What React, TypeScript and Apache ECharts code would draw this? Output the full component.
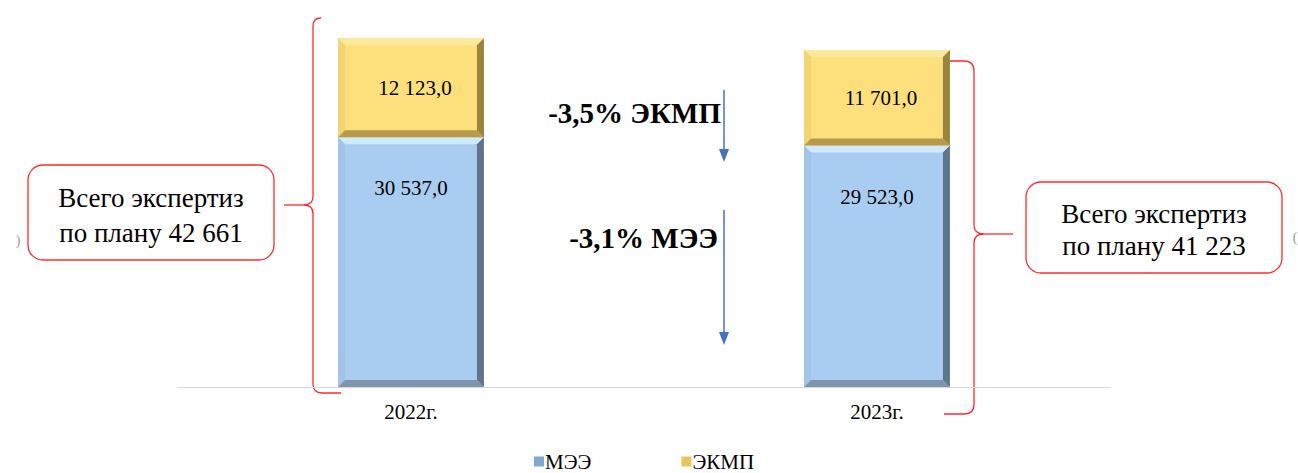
import React, { useEffect, useRef } from "react";
import * as echarts from "echarts";

const categories = ["2022г.", "2023г."];
const meeValues = [30537, 29523];
const ekmpValues = [12123, 11701];
const seriesNames = ["МЭЭ", "ЭКМП"];
const totalTexts = ["Всего экспертиз\nпо плану 42 661", "Всего экспертиз\nпо плану 41 223"];
const changeTexts = ["-3,5% ЭКМП", "-3,1% МЭЭ"];

const SERIF = "'Times New Roman', 'Liberation Serif', 'DejaVu Serif', serif";

function fmt(v: number): string {
  const s = Math.round(v).toString().replace(/\B(?=(\d{3})+(?!\d))/g, " ");
  return s + ",0";
}

type Pal = { face: string; top: string; left: string; right: string; bottom: string };
const bluePal: Pal = { face: "#a9cdf1", top: "#cfeafd", left: "#a2c5e8", right: "#5f758b", bottom: "#7d95ad" };
const yellowPal: Pal = { face: "#fde07b", top: "#fee99a", left: "#f3d474", right: "#9b843d", bottom: "#b59b4a" };

function makeRender(pal: Pal, labelDist: number, labelInside: boolean) {
  return (params: any, api: any) => {
    const cat = api.value(0);
    const v = api.value(1);
    const base = api.value(2);
    const p0 = api.coord([cat, base]);
    const p1 = api.coord([cat, base + v]);
    const bw = api.size([1, 0])[0] * 0.313;
    const x0 = p0[0] - bw / 2;
    const x1 = x0 + bw;
    const yT = p1[1];
    const yB = p0[1];
    const b = 7;
    const labelY = labelInside ? (yT + yB) / 2 : yT + labelDist;
    return {
      type: "group",
      children: [
        { type: "rect", shape: { x: x0, y: yT, width: bw, height: yB - yT }, style: { fill: pal.face } },
        { type: "polygon", shape: { points: [[x0, yT], [x1, yT], [x1 - b, yT + b], [x0 + b, yT + b]] }, style: { fill: pal.top } },
        { type: "polygon", shape: { points: [[x0, yT], [x0 + b, yT + b], [x0 + b, yB - b], [x0, yB]] }, style: { fill: pal.left } },
        { type: "polygon", shape: { points: [[x1, yT], [x1, yB], [x1 - b, yB - b], [x1 - b, yT + b]] }, style: { fill: pal.right } },
        { type: "polygon", shape: { points: [[x0, yB], [x0 + b, yB - b], [x1 - b, yB - b], [x1, yB]] }, style: { fill: pal.bottom } },
        {
          type: "text",
          style: {
            text: fmt(v),
            x: p0[0] + (labelInside ? 4 : 0),
            y: labelY,
            align: "center",
            verticalAlign: "middle",
            fill: "#000",
            fontFamily: SERIF,
            fontSize: 21,
          },
        },
      ],
    };
  };
}

export default function App() {
  const ref = useRef<HTMLDivElement>(null);
  useEffect(() => {
    if (!ref.current) return;
    echarts.graphic.registerShape(
      "braceLeft",
      echarts.graphic.extendPath(
        "M 321 18 Q 313 18 313 26 L 313 196 Q 313 205 304 205 Q 313 205 313 214 L 313 384 Q 313 393 322 393 L 341 393",
        {}
      )
    );
    echarts.graphic.registerShape(
      "braceRight",
      echarts.graphic.extendPath(
        "M 944 61 L 964 61 Q 974 61 974 71 L 974 225 Q 974 234 984 234 Q 974 234 974 243 L 974 404 Q 974 414 964 414 L 944 414",
        {}
      )
    );
    const chart = echarts.init(ref.current, null, { renderer: "svg" });
    const meeData = categories.map((_, i) => [i, meeValues[i], 0]);
    const ekmpData = categories.map((_, i) => [i, ekmpValues[i], meeValues[i]]);
    const red = "#ff2b2b";
    const txt = (text: string, x: number, y: number, size: number, extra: any = {}) => ({
      type: "text",
      style: {
        text,
        x,
        y,
        align: "center",
        verticalAlign: "middle",
        fontFamily: SERIF,
        fontSize: size,
        fill: "#000",
        ...extra,
      },
    });
    chart.setOption({
      animation: false,
      textStyle: { fontFamily: SERIF },
      grid: { left: 178, right: 188, top: 19, bottom: 86 },
      xAxis: {
        type: "category",
        data: categories,
        axisLine: { lineStyle: { color: "#d9d9d9", width: 1 } },
        axisTick: { show: false },
        axisLabel: { color: "#000", fontFamily: SERIF, fontSize: 21, margin: 14 },
      },
      yAxis: { type: "value", min: 0, max: 45000, show: false, splitLine: { show: false } },
      legend: {
        left: 529,
        top: 446,
        itemWidth: 10,
        itemHeight: 10,
        itemGap: 90,
        icon: "rect",
        textStyle: { color: "#000", fontFamily: SERIF, fontSize: 21, padding: [0, 0, 0, -4] },
        data: seriesNames,
      },
      series: [
        {
          name: seriesNames[0],
          type: "custom",
          data: meeData,
          encode: { x: 0, y: 1 },
          itemStyle: { color: "#7fa8d2" },
          renderItem: makeRender(bluePal, 51, false),
        },
        {
          name: seriesNames[1],
          type: "custom",
          data: ekmpData,
          encode: { x: 0, y: 1 },
          itemStyle: { color: "#e8c75a" },
          renderItem: makeRender(yellowPal, 0, true),
        },
      ],
      graphic: [
        { type: "braceLeft", x: 0, y: 0, style: { fill: null, stroke: red, lineWidth: 1.3 } },
        { type: "braceRight", x: 0, y: 0, style: { fill: null, stroke: red, lineWidth: 1.3 } },
        { type: "line", shape: { x1: 284, y1: 205, x2: 304, y2: 205 }, style: { stroke: red, lineWidth: 1.3 } },
        { type: "line", shape: { x1: 984, y1: 234, x2: 1013, y2: 234 }, style: { stroke: red, lineWidth: 1.3 } },
        {
          type: "rect",
          shape: { x: 28, y: 165, width: 246, height: 95, r: 15 },
          style: { fill: "#fff", stroke: red, lineWidth: 1.3 },
        },
        txt(totalTexts[0], 151, 215, 27, { lineHeight: 35 }),
        {
          type: "rect",
          shape: { x: 1026, y: 182, width: 256, height: 91, r: 15 },
          style: { fill: "#fff", stroke: red, lineWidth: 1.3 },
        },
        txt(totalTexts[1], 1154, 230, 27, { lineHeight: 32 }),
        txt(changeTexts[0], 721, 113, 29, { align: "right", fontWeight: "bold" }),
        txt(changeTexts[1], 718, 238, 29, { align: "right", fontWeight: "bold" }),
        { type: "line", shape: { x1: 724, y1: 90, x2: 724, y2: 152 }, style: { stroke: "#4472c4", lineWidth: 1.5 } },
        { type: "polygon", shape: { points: [[719, 149], [729, 149], [724, 162]] }, style: { fill: "#4472c4" } },
        { type: "line", shape: { x1: 724, y1: 210, x2: 724, y2: 335 }, style: { stroke: "#4472c4", lineWidth: 1.5 } },
        { type: "polygon", shape: { points: [[719, 332], [729, 332], [724, 345]] }, style: { fill: "#4472c4" } },
        txt(")", 18, 240, 14, { fill: "#999" }),
        txt("(", 1295, 237, 14, { fill: "#999" }),
      ],
    });
    return () => chart.dispose();
  }, []);
  return <div ref={ref} style={{ position: "fixed", left: 0, top: 0, width: 1298, height: 473, background: "#fff" }} />;
}
